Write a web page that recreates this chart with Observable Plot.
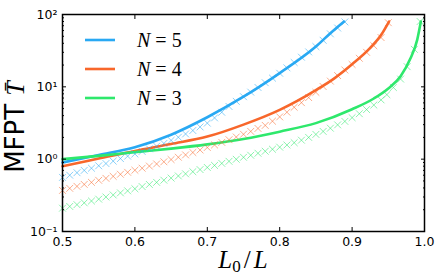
<!DOCTYPE html>
<html><head><meta charset="utf-8">
<script src="https://cdn.jsdelivr.net/npm/d3@7"></script>
<script src="https://cdn.jsdelivr.net/npm/@observablehq/plot@0.6"></script>
<style>body{margin:0;background:#fff}</style>
</head><body><div id="chart"></div>
<script>
// Series
const series = ["N=5", "N=4", "N=3"];
const seriesN = ["5", "4", "3"];
const colors = ["#29a9f3", "#f8672b", "#2ee86c"];

// Theory lines (solid)
const lineX5 = [0.5, 0.55, 0.6, 0.65, 0.7, 0.75, 0.8, 0.85, 0.87, 0.889];
const lineT5 = [0.9, 1.14, 1.46, 2.18, 3.8, 7.3, 15.5, 36, 55, 80];
const lineX4 = [0.5, 0.55, 0.6, 0.65, 0.7, 0.75, 0.8, 0.85, 0.875, 0.9, 0.925, 0.94, 0.951];
const lineT4 = [0.8, 1.02, 1.3, 1.62, 2.05, 3.0, 4.8, 9.0, 13.0, 20.5, 34.5, 52, 80];
const lineX3 = [0.5, 0.55, 0.6, 0.65, 0.7, 0.75, 0.8, 0.85, 0.9, 0.93, 0.95, 0.967, 0.98, 0.99, 0.995];
const lineT3 = [1.0, 1.11, 1.25, 1.4, 1.6, 1.9, 2.4, 3.15, 4.9, 6.9, 9.5, 14, 24, 45, 80];

// Simulation points (crosses)
const simX5 = [0.50,0.51,0.52,0.53,0.54,0.55,0.56,0.57,0.58,0.59,0.60,0.61,0.62,0.63,0.64,0.65,0.66,0.67,0.68,0.69,
               0.70,0.71,0.72,0.73,0.74,0.75,0.76,0.77,0.78,0.79,0.80,0.81,0.82,0.83,0.84,0.85,0.86,0.87,0.88,0.89];
const simT5 = [0.56,0.60,0.65,0.70,0.75,0.81,0.87,0.94,1.02,1.10,1.18,1.28,1.39,1.51,1.65,1.82,2.01,2.23,2.49,2.79,
               3.15,3.72,4.45,5.35,6.3,7.3,8.45,9.8,11.4,13.2,15.4,18.3,21.7,25.7,30.4,36,44,54,65,79];
const simX4 = [0.50,0.51,0.52,0.53,0.54,0.55,0.56,0.57,0.58,0.59,0.60,0.61,0.62,0.63,0.64,0.65,0.66,0.67,0.68,0.69,
               0.70,0.71,0.72,0.73,0.74,0.75,0.76,0.77,0.78,0.79,0.80,0.81,0.82,0.83,0.84,0.85,0.86,0.87,0.88,0.89,
               0.90,0.91,0.92,0.93,0.94,0.95];
const simT4 = [0.370,0.395,0.421,0.448,0.478,0.510,0.543,0.579,0.618,0.658,0.703,0.750,0.803,0.859,0.920,0.988,1.063,1.146,1.237,1.339,
               1.451,1.573,1.707,1.857,2.024,2.210,2.42,2.66,2.93,3.35,3.84,4.46,5.22,6.04,7.1,8.4,10.1,12.0,14.3,17.1,
               20.4,24.8,30,37,48,77];
const simX3 = [0.50,0.51,0.52,0.53,0.54,0.55,0.56,0.57,0.58,0.59,0.60,0.61,0.62,0.63,0.64,0.65,0.66,0.67,0.68,0.69,
               0.70,0.71,0.72,0.73,0.74,0.75,0.76,0.77,0.78,0.79,0.80,0.81,0.82,0.83,0.84,0.85,0.86,0.87,0.88,0.89,
               0.90,0.91,0.92,0.93,0.94,0.948,0.957,0.967,0.976,0.986,0.994];
const simT3 = [0.210,0.222,0.235,0.249,0.264,0.280,0.300,0.320,0.342,0.365,0.390,0.418,0.447,0.478,0.512,0.548,0.586,0.627,0.671,0.718,
               0.768,0.820,0.875,0.934,0.996,1.062,1.132,1.207,1.287,1.372,1.465,1.57,1.69,1.83,2.0,2.2,2.42,2.68,2.98,3.33,
               3.75,4.25,4.85,5.6,6.6,7.8,9.8,12.8,19,33,80];

// Ticks
const xTicks = [0.5, 0.6, 0.7, 0.8, 0.9, 1.0];
const xTickLabels = ["0.5", "0.6", "0.7", "0.8", "0.9", "1.0"];
const yTicks = [0.1, 1, 10, 100];
const yTickLabels = ["10\u207B\u00B9", "10\u2070", "10\u00B9", "10\u00B2"];
const yMinor = [0.2,0.3,0.4,0.5,0.6,0.7,0.8,0.9,2,3,4,5,6,7,8,9,20,30,40,50,60,70,80,90];

const rows = (xs, ts, s) => xs.map((x, i) => ({x, T: ts[i], s}));
const lines = [...rows(lineX5, lineT5, series[0]), ...rows(lineX4, lineT4, series[1]), ...rows(lineX3, lineT3, series[2])];
const sims = [...rows(simX5, simT5, series[0]), ...rows(simX4, simT4, series[1]), ...rows(simX3, simT3, series[2])];
const blank = () => "";

const plot = Plot.plot({
  width: 436, height: 278,
  marginLeft: 62, marginRight: 12, marginTop: 14, marginBottom: 47,
  style: {fontFamily: "DejaVu Sans", fontSize: "12px", background: "white", color: "black"},
  x: {domain: [0.5, 1.0], axis: null},
  y: {type: "log", domain: [0.1, 100], axis: null},
  color: {domain: series, range: colors},
  marks: [
    Plot.line(lines, {x: "x", y: "T", z: "s", stroke: "s", strokeWidth: 2.6, curve: "monotone-x"}),
    Plot.dot(sims, {x: "x", y: "T", stroke: "s", symbol: "times", r: 3.2, strokeWidth: 1, strokeOpacity: 0.55}),
    // tick labels
    Plot.axisX({ticks: xTicks, tickSize: 0, tickPadding: 6, tickFormat: (d) => xTickLabels[xTicks.indexOf(d)], label: null, fontSize: 12.5}),
    Plot.axisY({ticks: yTicks, tickSize: 0, tickPadding: 5, tickFormat: (d) => yTickLabels[yTicks.indexOf(d)], label: null, fontSize: 12.5}),
    // inward ticks
    Plot.axisX({ticks: xTicks, tickSize: 4, dy: -4, tickFormat: blank, label: null}),
    Plot.axisX({anchor: "top", ticks: xTicks, tickSize: 4, dy: 4, tickFormat: blank, label: null}),
    Plot.axisY({ticks: yTicks, tickSize: 4, dx: 4, tickFormat: blank, label: null}),
    Plot.axisY({ticks: yMinor, tickSize: 2, dx: 2, tickFormat: blank, label: null}),
    Plot.axisY({anchor: "right", ticks: yTicks, tickSize: 4, dx: -4, tickFormat: blank, label: null}),
    Plot.axisY({anchor: "right", ticks: yMinor, tickSize: 2, dx: -2, tickFormat: blank, label: null}),
    Plot.frame({stroke: "black", strokeWidth: 1.5})
  ]
});
document.getElementById("chart").appendChild(plot);

// Legend and axis labels
const svg = d3.select(plot);
const lg = svg.append("g");
series.forEach((s, i) => {
  const y = 40 + i * 29;
  lg.append("line").attr("x1", 85).attr("x2", 115).attr("y1", y).attr("y2", y)
    .attr("stroke", colors[i]).attr("stroke-width", 2.6);
  const t = lg.append("text").attr("x", 137).attr("y", y + 6.5).attr("text-anchor", "start")
    .attr("font-family", "Liberation Serif").attr("font-size", 20).attr("fill", "black");
  t.append("tspan").attr("font-style", "italic").text("N");
  t.append("tspan").attr("dx", 5).text("=");
  t.append("tspan").attr("dx", 5).text(seriesN[i]);
});

const xl = svg.append("text").attr("x", 243).attr("y", 268).attr("text-anchor", "middle")
  .attr("font-family", "Liberation Serif").attr("font-size", 25).attr("fill", "black");
xl.append("tspan").attr("font-style", "italic").text("L");
xl.append("tspan").attr("font-size", 17).attr("dy", 4).text("0");
xl.append("tspan").attr("dy", -4).attr("dx", 3).text("/");
xl.append("tspan").attr("font-style", "italic").attr("dx", 3).text("L");

const yl = svg.append("text").attr("transform", "translate(24,127) rotate(-90)").attr("text-anchor", "middle")
  .attr("font-size", 26).attr("fill", "black");
yl.append("tspan").attr("font-family", "DejaVu Sans").text("MFPT ");
yl.append("tspan").attr("font-family", "Liberation Serif").attr("font-style", "italic").text("T\u0304");
</script>
</body></html>
